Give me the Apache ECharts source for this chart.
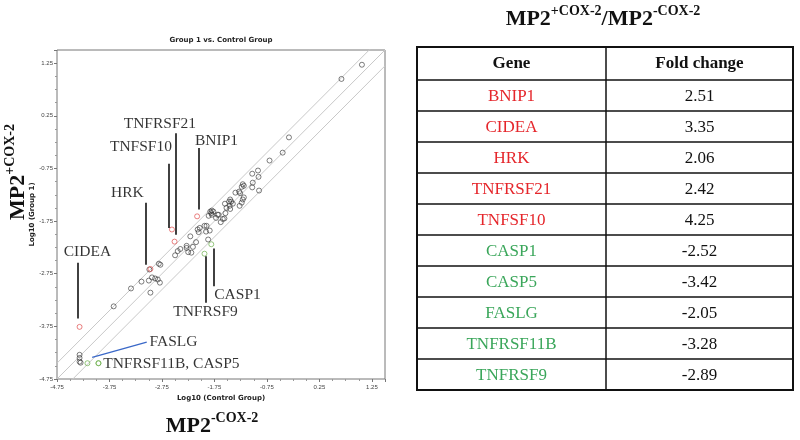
<!DOCTYPE html>
<html>
<head>
<meta charset="utf-8">
<script src="https://cdn.jsdelivr.net/npm/echarts@6/dist/echarts.min.js"></script>
<style>
  html, body { margin: 0; padding: 0; background: #fff; }
  #chart { width: 800px; height: 440px; }
</style>
</head>
<body>
<div id="chart"></div>
<script>
// log10 expression, [control, group 1]
var otherGenes = [
  [1.06, 1.22], [0.67, 0.95], [-0.33, -0.16], [-0.45, -0.45], [-0.70, -0.60],
  [-0.92, -0.79], [-1.03, -0.85], [-0.91, -0.91], [-1.02, -1.02], [-1.03, -1.11],
  [-0.90, -1.17], [-1.21, -1.05], [-1.19, -1.08], [-1.23, -1.10], [-1.28, -1.19],
  [-1.35, -1.21], [-1.26, -1.22], [-1.19, -1.30], [-1.21, -1.34], [-1.23, -1.40],
  [-1.27, -1.46], [-1.45, -1.34], [-1.47, -1.38], [-1.43, -1.38], [-1.40, -1.42],
  [-1.55, -1.42], [-1.46, -1.46], [-1.52, -1.50], [-1.45, -1.52], [-1.54, -1.60],
  [-1.59, -1.71], [-1.67, -1.63], [-1.63, -1.77], [-1.56, -1.70], [-1.80, -1.55],
  [-1.83, -1.57], [-1.77, -1.57], [-1.81, -1.60], [-1.80, -1.63], [-1.86, -1.65],
  [-1.69, -1.63], [-1.72, -1.69], [-1.84, -1.93], [-1.90, -1.84], [-1.94, -1.84],
  [-2.05, -1.96], [-2.03, -1.88], [-2.07, -1.91], [-1.91, -1.95], [-1.87, -2.10],
  [-2.10, -2.15], [-2.16, -2.24], [-2.21, -2.04], [-2.19, -2.35], [-2.25, -2.34],
  [-2.28, -2.22], [-2.28, -2.26], [-2.40, -2.28], [-2.45, -2.32], [-2.50, -2.40],
  [-2.78, -2.58], [-2.81, -2.56], [-2.99, -2.67], [-3.14, -2.90], [-3.00, -2.88],
  [-2.94, -2.82], [-2.88, -2.84], [-2.83, -2.86], [-2.79, -2.92], [-2.97, -3.11],
  [-3.34, -3.03], [-3.67, -3.37], [-4.32, -4.29], [-4.32, -4.35], [-4.32, -4.42],
  [-4.30, -4.44]
];
var upGenes = [
  [-2.08, -1.66, "BNIP1"], [-4.32, -3.76, "CIDEA"], [-2.97, -2.66, "HRK"],
  [-2.51, -2.14, "TNFRSF21"], [-2.56, -1.91, "TNFSF10"]
];
var downGenes = [
  [-1.81, -2.19, "CASP1"], [-3.96, -4.45, "CASP5"], [-4.17, -4.45, "FASLG"],
  [-3.96, -4.45, "TNFRSF11B"], [-1.94, -2.37, "TNFRSF9"]
];

// fold boundary lines: log10(2)
var boundaryOffsets = [-0.301, 0, 0.301];

// callout text and leader lines, data coords
var calloutLabels = [
  [-4.17, -2.33, "CIDEA"], [-3.41, -1.21, "HRK"], [-3.15, -0.34, "TNFSF10"],
  [-2.79, 0.10, "TNFRSF21"], [-1.71, -0.23, "BNIP1"], [-1.31, -3.16, "CASP1"],
  [-1.92, -3.48, "TNFRSF9"], [-2.53, -4.05, "FASLG"], [-2.57, -4.47, "TNFRSF11B, CASP5"]
];
var leaderLines = [
  [[-4.35, -2.54], [-4.35, -3.60]],
  [[-3.05, -1.40], [-3.05, -2.58]],
  [[-2.63, -0.66], [-2.63, -1.88]],
  [[-2.48, -0.08], [-2.48, -2.01]],
  [[-2.05, -0.36], [-2.05, -1.53]],
  [[-1.77, -2.27], [-1.77, -2.99]],
  [[-1.91, -2.42], [-1.91, -3.30]]
];
var faslgLine = [[-4.08, -4.34], [-3.04, -4.05]];

// table
var tableGenes = ["BNIP1", "CIDEA", "HRK", "TNFRSF21", "TNFSF10",
  "CASP1", "CASP5", "FASLG", "TNFRSF11B", "TNFRSF9"];
var tableFolds = ["2.51", "3.35", "2.06", "2.42", "4.25",
  "-2.52", "-3.42", "-2.05", "-3.28", "-2.89"];

var serif = "Liberation Serif, Times New Roman, serif";
var RED = "#e5262b";
var GREEN = "#3aa65a";

var xMin = -4.75, xMax = 1.5;

var boundarySeries = boundaryOffsets.map(function (d) {
  return {
    type: "line",
    data: [[xMin, xMin + d], [xMax, xMax + d]],
    symbol: "none",
    silent: true,
    lineStyle: { color: "#c8c8c8", width: 1 },
    z: 1
  };
});

// table graphic
var tL = 417, tR = 793, tT = 47, headH = 33, rowH = 31, colX = 606;
var tB = tT + headH + rowH * tableGenes.length;
var tableEls = [];
tableEls.push({ type: "rect", shape: { x: tL, y: tT, width: tR - tL, height: tB - tT },
  style: { fill: "none", stroke: "#111", lineWidth: 2 } });
tableEls.push({ type: "line", shape: { x1: colX, y1: tT, x2: colX, y2: tB },
  style: { stroke: "#111", lineWidth: 1.5 } });
for (var i = 0; i < tableGenes.length; i++) {
  var ry = tT + headH + rowH * i;
  tableEls.push({ type: "line", shape: { x1: tL, y1: ry, x2: tR, y2: ry },
    style: { stroke: "#111", lineWidth: 1.5 } });
  var c = parseFloat(tableFolds[i]) > 0 ? RED : GREEN;
  tableEls.push({ type: "text", x: (tL + colX) / 2, y: ry + rowH / 2 + 1,
    style: { text: tableGenes[i], fill: c, font: "17px " + serif, align: "center", verticalAlign: "middle" } });
  tableEls.push({ type: "text", x: (colX + tR) / 2, y: ry + rowH / 2 + 1,
    style: { text: tableFolds[i], fill: "#111", font: "17px " + serif, align: "center", verticalAlign: "middle" } });
}
tableEls.push({ type: "text", x: (tL + colX) / 2, y: tT + headH / 2,
  style: { text: "Gene", fill: "#111", font: "bold 17px " + serif, align: "center", verticalAlign: "middle" } });
tableEls.push({ type: "text", x: (colX + tR) / 2, y: tT + headH / 2,
  style: { text: "Fold change", fill: "#111", font: "bold 17px " + serif, align: "center", verticalAlign: "middle" } });

var supRich = {
  m: { fontSize: 22, fontWeight: "bold", fontFamily: serif, fill: "#111", lineHeight: 26, verticalAlign: "bottom" },
  s: { fontSize: 14, fontWeight: "bold", fontFamily: serif, fill: "#111", lineHeight: 26, verticalAlign: "top" }
};

var chart = echarts.init(document.getElementById("chart"));
chart.setOption({
  animation: false,
  grid: { left: 57, top: 50, width: 328, height: 329, show: true, borderColor: "#777", borderWidth: 1 },
  xAxis: {
    type: "value", min: xMin, max: xMax, interval: 1,
    name: "Log10 (Control Group)", nameLocation: "middle", nameGap: 16,
    nameTextStyle: { fontSize: 7, fontWeight: "bold", color: "#222", fontFamily: "DejaVu Sans" },
    axisLine: { show: false, onZero: false },
    axisTick: { show: true, length: 3, lineStyle: { color: "#777" } },
    minorTick: { show: true, splitNumber: 4, length: 2, lineStyle: { color: "#999" } },
    splitLine: { show: false },
    axisLabel: { fontSize: 6, color: "#444", margin: 5, showMaxLabel: false,
      formatter: function (v) { return v.toFixed(2); } }
  },
  yAxis: {
    type: "value", min: xMin, max: xMax, interval: 1,
    name: "Log10 (Group 1)", nameLocation: "middle", nameGap: 20,
    nameTextStyle: { fontSize: 7, fontWeight: "bold", color: "#222", fontFamily: "DejaVu Sans" },
    axisLine: { show: false, onZero: false },
    axisTick: { show: true, length: 3, lineStyle: { color: "#777" } },
    minorTick: { show: true, splitNumber: 4, length: 2, lineStyle: { color: "#999" } },
    splitLine: { show: false },
    axisLabel: { fontSize: 6, color: "#444", margin: 4, showMaxLabel: false,
      formatter: function (v) { return v.toFixed(2); } }
  },
  series: boundarySeries.concat([
    {
      type: "scatter", data: otherGenes, symbol: "circle", symbolSize: 5,
      itemStyle: { color: "rgba(255,255,255,0)", borderColor: "#333", borderWidth: 0.8 }, z: 3
    },
    {
      type: "scatter", data: upGenes, symbol: "circle", symbolSize: 5,
      itemStyle: { color: "rgba(255,255,255,0)", borderColor: "#e05050", borderWidth: 0.9 }, z: 4
    },
    {
      type: "scatter", data: downGenes, symbol: "circle", symbolSize: 5,
      itemStyle: { color: "rgba(255,255,255,0)", borderColor: "#6cb04c", borderWidth: 0.9 }, z: 4
    },
    {
      type: "lines", coordinateSystem: "cartesian2d", polyline: false, silent: true,
      data: leaderLines.map(function (l) { return { coords: l }; }),
      lineStyle: { color: "#111", width: 1.6, opacity: 1 }, z: 5
    },
    {
      type: "lines", coordinateSystem: "cartesian2d", silent: true,
      data: [{ coords: faslgLine }],
      lineStyle: { color: "#3a68c8", width: 1.3, opacity: 1 }, z: 5
    },
    {
      type: "scatter", data: calloutLabels, symbolSize: 0, silent: true, z: 6,
      label: {
        show: true, position: [0, 0], align: "center", verticalAlign: "middle",
        fontFamily: serif, fontSize: 15.5, color: "#000", textBorderWidth: 0,
        formatter: function (p) { return p.value[2]; }
      }
    }
  ]),
  graphic: [
    { type: "text", x: 221, y: 40,
      style: { text: "Group 1 vs. Control Group", font: "bold 7px DejaVu Sans", fill: "#222", align: "center", verticalAlign: "middle" } },
    { type: "text", x: 16, y: 172, rotation: Math.PI / 2,
      style: { text: "{m|MP2}{s|+COX-2}", rich: supRich, align: "center", verticalAlign: "middle" } },
    { type: "text", x: 212, y: 424,
      style: { text: "{m|MP2}{s|-COX-2}", rich: supRich, align: "center", verticalAlign: "middle" } },
    { type: "text", x: 603, y: 17,
      style: { text: "{m|MP2}{s|+COX-2}{m|/MP2}{s|-COX-2}", rich: supRich, align: "center", verticalAlign: "middle" } }
  ].concat(tableEls)
});
</script>
</body>
</html>
